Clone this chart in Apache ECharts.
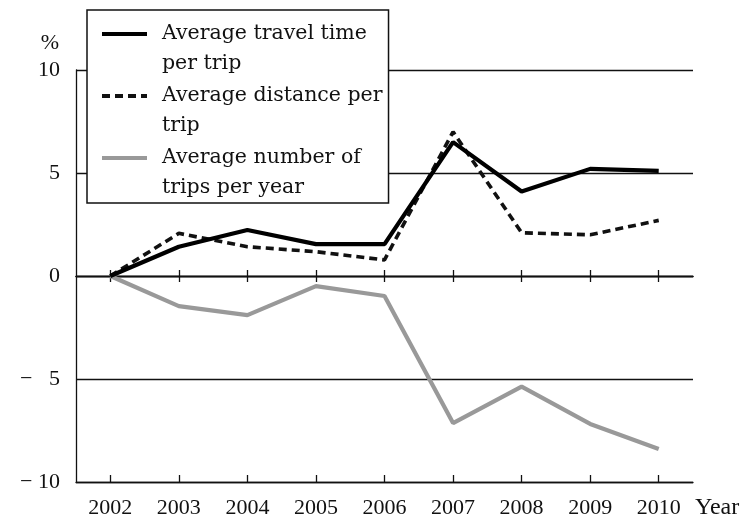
<!DOCTYPE html>
<html><head><meta charset="utf-8">
<script src="https://cdn.jsdelivr.net/npm/echarts@6/dist/echarts.min.js"></script>
<style>html,body{margin:0;padding:0;background:#fff}#c{width:747px;height:522px}</style>
</head><body><div id="c"></div>
<script>
const years = ['2002','2003','2004','2005','2006','2007','2008','2009','2010'];
const travelTime = [0, 1.42, 2.23, 1.55, 1.55, 6.5, 4.1, 5.2, 5.1];
const distance = [0, 2.07, 1.42, 1.18, 0.78, 7.0, 2.1, 2.0, 2.7];
const trips = [0, -1.46, -1.9, -0.49, -0.97, -7.14, -5.37, -7.18, -8.4];
const yTicks = {min: -10, max: 10, interval: 5};
const names = ['Average travel time\nper trip', 'Average distance per\ntrip', 'Average number of\ntrips per year'];

const font = 'Liberation Serif';
const chart = echarts.init(document.getElementById('c'));
const tickAxis = (inside) => ({
  type: 'category', data: years, position: 'bottom', boundaryGap: true,
  axisLine: {show: true, onZero: true, onZeroAxisIndex: 0, lineStyle: {color: '#111', width: 1.3}},
  axisTick: {show: true, inside: inside, alignWithLabel: true, length: 6, lineStyle: {color: '#111', width: 1.3}},
  axisLabel: {show: false}, splitLine: {show: false}
});
chart.setOption({
  animation: false,
  backgroundColor: '#fff',
  grid: {left: 76, right: 54, top: 70, bottom: 40, containLabel: false},
  legend: {
    orient: 'vertical', left: 87, top: 10,
    padding: [-21, 6, 0, 13],
    itemWidth: 45, itemHeight: 14, itemGap: -28,
    backgroundColor: '#fff', borderColor: '#111', borderWidth: 1.5,
    itemStyle: {opacity: 0},
    lineStyle: {width: 4},
    formatter: name => '\n' + name,
    textStyle: {fontFamily: 'DejaVu Serif', fontSize: 20.5, lineHeight: 30, color: '#111', padding: [0, 0, 0, 10]},
    data: names
  },
  xAxis: [
    {
      type: 'category', data: years, position: 'bottom', boundaryGap: true,
      name: 'Year', nameLocation: 'end', nameGap: 2,
      nameTextStyle: {fontFamily: font, fontSize: 24, color: '#111', verticalAlign: 'top', padding: [14, 0, 0, 0]},
      axisLine: {show: true, onZero: false, lineStyle: {color: '#111', width: 1.3}},
      axisTick: {show: true, inside: true, alignWithLabel: true, length: 7, lineStyle: {color: '#111', width: 1.3}},
      axisLabel: {fontFamily: font, fontSize: 22, color: '#111', margin: 15},
      splitLine: {show: false}
    },
    tickAxis(true),
    tickAxis(false)
  ],
  yAxis: {
    type: 'value', min: yTicks.min, max: yTicks.max, interval: yTicks.interval,
    name: '%', nameLocation: 'end', nameGap: 16,
    nameTextStyle: {fontFamily: font, fontSize: 22, color: '#111', align: 'right', padding: [0, 17, 0, 0]},
    axisLine: {show: true, lineStyle: {color: '#111', width: 1.3}},
    axisTick: {show: false},
    axisLabel: {fontFamily: font, fontSize: 22, color: '#111', margin: 16,
      formatter: v => v < 0 ? '\u2212 ' + (Math.abs(v) < 10 ? '\u2007' : '') + Math.abs(v) : String(v)},
    splitLine: {show: true, lineStyle: {color: '#111', width: 1.3}}
  },
  series: [
    {name: names[0], type: 'line', data: travelTime, symbol: 'none', z: 4,
     lineStyle: {color: '#000', width: 4.2}, itemStyle: {color: '#000'}},
    {name: names[1], type: 'line', data: distance, symbol: 'none', z: 3,
     lineStyle: {color: '#111', width: 3.6, type: [8, 5]}, itemStyle: {color: '#111'}},
    {name: names[2], type: 'line', data: trips, symbol: 'none', z: 2,
     lineStyle: {color: '#999', width: 4.2}, itemStyle: {color: '#999'}}
  ]
});
</script></body></html>
